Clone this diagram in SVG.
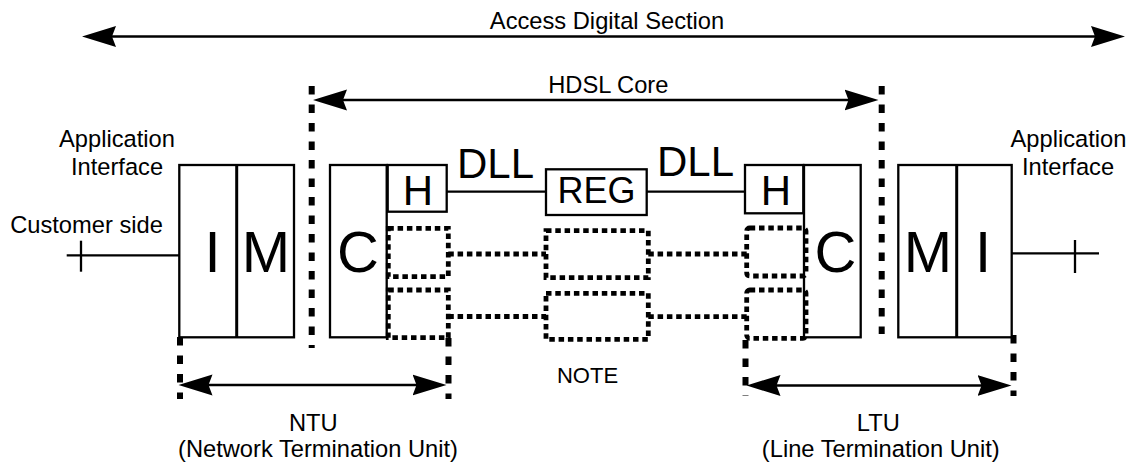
<svg xmlns="http://www.w3.org/2000/svg" width="1130" height="462" viewBox="0 0 1130 462">
<defs>
<marker id="ah" markerUnits="userSpaceOnUse" markerWidth="36" markerHeight="24" refX="26" refY="12" orient="auto-start-reverse">
<path d="M0,1.5 L34,12 L0,22.5 L4,12 z" fill="#000"/>
</marker>
</defs>
<style>
text{font-family:"Liberation Sans",Arial,sans-serif;fill:#000;text-anchor:middle}
.s{font-size:23.7px}
.big{font-size:58px}
.h{font-size:42px}
.reg{font-size:36px}
.note{font-size:22px}
.box{fill:#fff;stroke:#000;stroke-width:2.3}
.ln{stroke:#000;stroke-width:2.3;fill:none}
.div{stroke:#000;stroke-width:3;fill:none}
.arr{stroke:#000;stroke-width:2.6;fill:none;marker-start:url(#ah);marker-end:url(#ah)}
.dash{stroke:#000;stroke-width:6;stroke-dasharray:8.5 10;fill:none}
.dot{stroke:#000;stroke-width:4.8;stroke-dasharray:5.5 3.8;fill:none}
</style>
<rect width="1130" height="462" fill="#fff"/>

<g id="connectors">
<line class="arr" x1="90" y1="36.5" x2="1117" y2="36.5"/>
<line class="arr" x1="321" y1="100" x2="870.5" y2="100"/>
<line class="arr" x1="186.5" y1="385" x2="438.5" y2="385"/>
<line class="arr" x1="754.5" y1="385.5" x2="1003.5" y2="385.5"/>
<line class="dash" x1="311.7" y1="86" x2="311.7" y2="348"/>
<line class="dash" x1="881.7" y1="86" x2="881.7" y2="334"/>
<line class="dash" x1="180" y1="337" x2="180" y2="399"/>
<line class="dash" x1="448.5" y1="338" x2="448.5" y2="399"/>
<line class="dash" x1="745.5" y1="340" x2="745.5" y2="396"/>
<line class="dash" x1="1013.5" y1="335" x2="1013.5" y2="396"/>
<line class="ln" x1="66.7" y1="255.3" x2="179.3" y2="255.3"/>
<line class="ln" x1="81" y1="240.7" x2="81" y2="271.7"/>
<line class="ln" x1="1011.7" y1="253.3" x2="1099" y2="253.3"/>
<line class="ln" x1="1075" y1="240" x2="1075" y2="273"/>
<line class="ln" x1="446.7" y1="191.7" x2="546" y2="191.7"/>
<line class="ln" x1="646.7" y1="191.7" x2="745" y2="191.7"/>
<line class="dot" x1="448.3" y1="254" x2="546" y2="254"/>
<line class="dot" x1="448.3" y1="316.5" x2="546" y2="316.5"/>
<line class="dot" x1="648.3" y1="254" x2="746.7" y2="254"/>
<line class="dot" x1="648.3" y1="316.7" x2="746.7" y2="316.7"/>
</g>

<g id="left-im">
<rect class="box" x="179.3" y="165" width="114.7" height="172.3"/>
<line class="div" x1="236.7" y1="165" x2="236.7" y2="337.3"/>
<text class="big" x="212.5" y="271.7">I</text>
<text class="big" x="266" y="271.7">M</text>
</g>
<g id="left-c">
<rect class="box" x="330" y="165" width="56.7" height="172.3"/>
<text class="big" x="358" y="271.7">C</text>
</g>
<g id="left-h">
<rect class="box" x="387.7" y="165" width="59" height="46.7"/>
<text class="h" x="418" y="205">H</text>
</g>
<g id="left-dotted">
<rect class="dot" x="388.3" y="228.3" width="60" height="48.4"/>
<rect class="dot" x="388.3" y="290" width="60" height="47.7"/>
</g>
<g id="reg">
<rect class="box" x="546" y="169.3" width="100.7" height="45.7"/>
<text class="reg" x="596.5" y="203.3">REG</text>
</g>
<g id="reg-dotted">
<rect class="dot" x="546" y="230.7" width="102.3" height="47"/>
<rect class="dot" x="546" y="293.3" width="102.3" height="46"/>
</g>
<g id="right-h">
<rect class="box" x="745" y="165" width="58.3" height="48.3"/>
<text class="h" x="776" y="205">H</text>
</g>
<g id="right-c">
<rect class="box" x="804" y="165" width="56.7" height="172.3"/>
<text class="big" x="835.5" y="271.7">C</text>
</g>
<g id="right-dotted">
<rect class="dot" x="746.7" y="228" width="59.3" height="48" rx="3"/>
<rect class="dot" x="746.7" y="290" width="59.3" height="48.3" rx="3"/>
</g>
<g id="right-mi">
<rect class="box" x="898.3" y="165" width="113.4" height="172.3"/>
<line class="div" x1="956.7" y1="165" x2="956.7" y2="337.3"/>
<text class="big" x="928" y="271.7">M</text>
<text class="big" x="983" y="271.7">I</text>
</g>

<g id="labels">
<text class="s" x="607" y="29.3">Access Digital Section</text>
<text class="s" x="608.3" y="93.3">HDSL Core</text>
<text class="s" x="117" y="146.7">Application</text>
<text class="s" x="117" y="175">Interface</text>
<text class="s" x="1068.5" y="146.7">Application</text>
<text class="s" x="1068" y="175">Interface</text>
<text class="s" x="86.5" y="233">Customer side</text>
<text class="h" x="495.5" y="178.3">DLL</text>
<text class="h" x="695.5" y="176">DLL</text>
<text class="note" x="587.5" y="383.3">NOTE</text>
<text class="s" x="313.3" y="431">NTU</text>
<text class="s" x="318" y="456.5">(Network Termination Unit)</text>
<text class="s" x="878.3" y="431">LTU</text>
<text class="s" x="880.8" y="456.5">(Line Termination Unit)</text>
</g>
</svg>
